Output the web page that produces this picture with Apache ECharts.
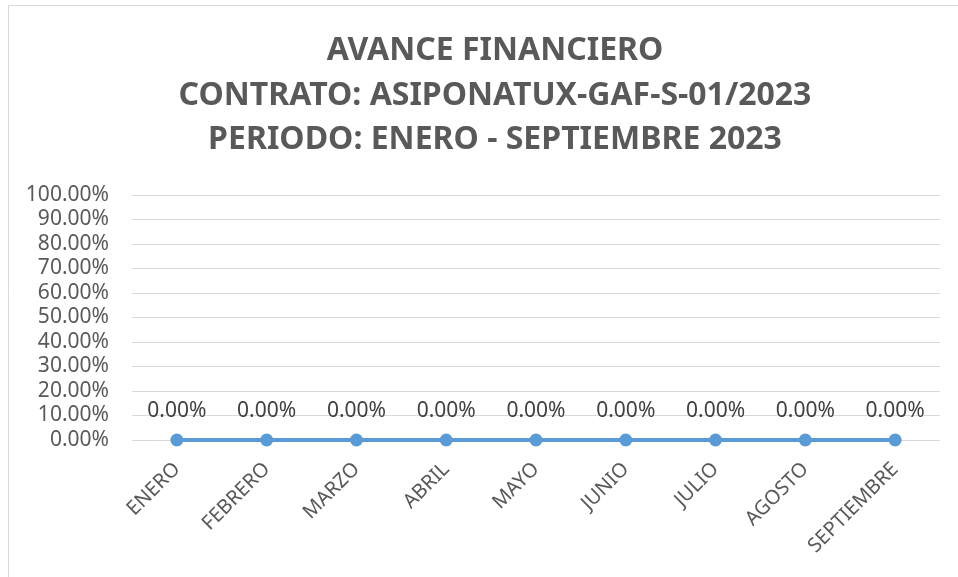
<!DOCTYPE html>
<html>
<head>
<meta charset="utf-8">
<script src="https://cdn.jsdelivr.net/npm/echarts@6/dist/echarts.min.js"></script>
<style>
  html, body { margin: 0; padding: 0; background: #fff; }
  #avance { width: 958px; height: 577px; }
</style>
</head>
<body>
<div id="avance"></div>
<script>
// datos del grafico
const meses = ["ENERO", "FEBRERO", "MARZO", "ABRIL", "MAYO", "JUNIO", "JULIO", "AGOSTO", "SEPTIEMBRE"];
const avance = [0, 0, 0, 0, 0, 0, 0, 0, 0];
const titulos = [
  "AVANCE FINANCIERO",
  "CONTRATO: ASIPONATUX-GAF-S-01/2023",
  "PERIODO: ENERO - SEPTIEMBRE 2023"
];

const fuente = "'Noto Sans', sans-serif";

let myChart = echarts.init(document.getElementById("avance"));
myChart.setOption({
  animation: false,
  title: {
    text: titulos.join("\n"),
    left: 490,
    textAlign: "center",
    top: 24,
    textStyle: {
      color: "#595959",
      fontFamily: fuente,
      fontWeight: "bold",
      fontSize: 32,
      lineHeight: 44.5
    }
  },
  graphic: [{
    type: "rect",
    shape: { x: 8.5, y: 5.5, width: 1000, height: 1000 },
    style: { fill: "none", stroke: "#D9D9D9", lineWidth: 1 },
    silent: true
  }],
  grid: {
    left: 132,
    right: 18,
    top: 195,
    bottom: 137
  },
  xAxis: {
    type: "category",
    data: meses,
    boundaryGap: true,
    axisLine: { show: false },
    axisTick: { show: false },
    axisLabel: {
      rotate: 45,
      margin: 26,
      color: "#595959",
      fontFamily: fuente,
      fontSize: 20
    }
  },
  yAxis: {
    type: "value",
    min: 0,
    max: 1,
    interval: 0.1,
    axisLine: { show: false },
    axisTick: { show: false },
    splitLine: {
      lineStyle: { color: "#D9D9D9", width: 1 }
    },
    axisLabel: {
      margin: 23,
      color: "#595959",
      fontFamily: fuente,
      fontSize: 21,
      formatter: v => (v * 100).toFixed(2) + "%"
    }
  },
  series: [{
    type: "line",
    data: avance,
    symbol: "circle",
    symbolSize: 13,
    itemStyle: { color: "#5B9BD5" },
    lineStyle: { color: "#5B9BD5", width: 4 },
    label: {
      show: true,
      position: "top",
      distance: 12,
      color: "#404040",
      fontFamily: fuente,
      fontSize: 21,
      formatter: p => (p.value * 100).toFixed(2) + "%"
    }
  }]
});
window.addEventListener("resize", () => {
  myChart.resize();
});
</script>
</body>
</html>
